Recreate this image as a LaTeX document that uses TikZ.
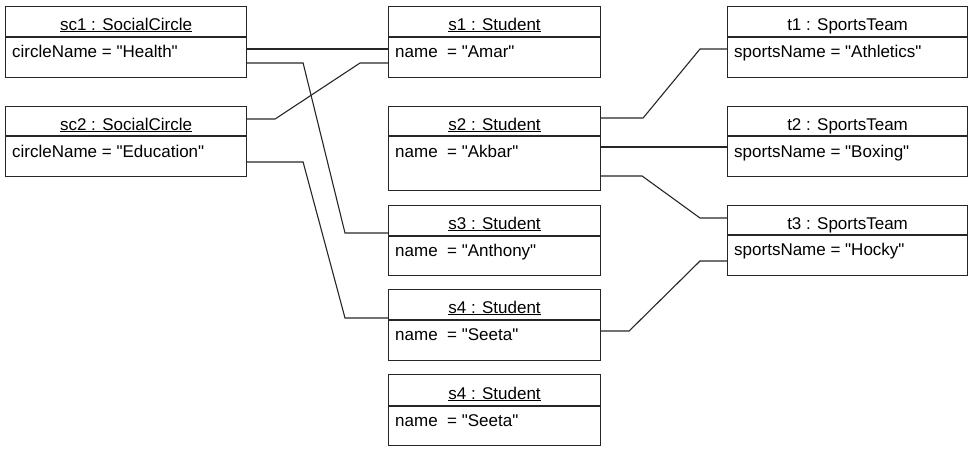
\documentclass[tikz,border=0pt]{standalone}
\usepackage{fontspec}
\setmainfont{Liberation Sans}

\tikzset{
	objbox/.style={draw=black!85, line width=1.1pt, anchor=north west, inner sep=0pt},
	objtitle/.style={inner sep=0pt, anchor=base},
	objattr/.style={inner sep=0pt, anchor=base west},
	link/.style={draw=black!85, line width=1.1pt},
}

\newcommand{\objsep}[2]{\draw[link] ([yshift=-#2]#1.north west) -- ([yshift=-#2]#1.north east);}
\newcommand{\qval}[1]{\textquotedbl#1\textquotedbl}

\begin{document}
\begin{tikzpicture}[x=1pt, y=-1pt, font=\fontsize{17}{20}\selectfont]
		\useasboundingbox (0,0) rectangle (976,451);
		% social circles
		\node[objbox, minimum width=241pt, minimum height=71pt] (sc1) at (5,6) {};
		\node[objbox, minimum width=241pt, minimum height=70pt] (sc2) at (5,106) {};
		% students
		\node[objbox, minimum width=212pt, minimum height=71pt] (s1) at (388,6) {};
		\node[objbox, minimum width=212pt, minimum height=84pt] (s2) at (388,106) {};
		\node[objbox, minimum width=212pt, minimum height=70pt] (s3) at (388,205) {};
		\node[objbox, minimum width=212pt, minimum height=71pt] (s4) at (388,289) {};
		\node[objbox, minimum width=212pt, minimum height=71pt] (s5) at (388,374) {};
		% sports teams
		\node[objbox, minimum width=240pt, minimum height=71pt] (t1) at (727,6) {};
		\node[objbox, minimum width=240pt, minimum height=70pt] (t2) at (727,106) {};
		\node[objbox, minimum width=240pt, minimum height=70pt] (t3) at (727,205) {};
		\objsep{sc1}{31pt} \objsep{sc2}{30pt}
		\objsep{s1}{31pt} \objsep{s2}{30pt} \objsep{s3}{31pt} \objsep{s4}{31pt} \objsep{s5}{32pt}
		\objsep{t1}{31pt} \objsep{t2}{30pt} \objsep{t3}{30pt}
		% titles
		\node[objtitle] (sc1name) at ([yshift=-24pt]sc1.north) {\underline{sc1 : SocialCircle}};
		\node[objtitle] (sc2name) at ([yshift=-24pt]sc2.north) {\underline{sc2 : SocialCircle}};
		\node[objtitle] (s1name) at ([yshift=-24pt]s1.north) {\underline{s1 : Student}};
		\node[objtitle] (s2name) at ([yshift=-24pt]s2.north) {\underline{s2 : Student}};
		\node[objtitle] (s3name) at ([yshift=-24pt]s3.north) {\underline{s3 : Student}};
		\node[objtitle] (s4name) at ([yshift=-24pt]s4.north) {\underline{s4 : Student}};
		\node[objtitle] (s5name) at ([yshift=-25pt]s5.north) {\underline{s4 : Student}};
		\node[objtitle] (t1name) at ([yshift=-24pt]t1.north) {t1 : SportsTeam};
		\node[objtitle] (t2name) at ([yshift=-24pt]t2.north) {t2 : SportsTeam};
		\node[objtitle] (t3name) at ([yshift=-24pt]t3.north) {t3 : SportsTeam};
		% attributes
		\node[objattr] (sc1attr) at ([xshift=7pt,yshift=-51pt]sc1.north west) {circleName = \qval{Health}};
		\node[objattr] (sc2attr) at ([xshift=7pt,yshift=-51pt]sc2.north west) {circleName = \qval{Education}};
		\node[objattr] (s1attr) at ([xshift=7pt,yshift=-51pt]s1.north west) {name\ \ = \qval{Amar}};
		\node[objattr] (s2attr) at ([xshift=7pt,yshift=-51pt]s2.north west) {name\ \ = \qval{Akbar}};
		\node[objattr] (s3attr) at ([xshift=7pt,yshift=-51pt]s3.north west) {name\ \ = \qval{Anthony}};
		\node[objattr] (s4attr) at ([xshift=7pt,yshift=-51pt]s4.north west) {name\ \ = \qval{Seeta}};
		\node[objattr] (s5attr) at ([xshift=7pt,yshift=-52pt]s5.north west) {name\ \ = \qval{Seeta}};
		\node[objattr] (t1attr) at ([xshift=7pt,yshift=-51pt]t1.north west) {sportsName = \qval{Athletics}};
		\node[objattr] (t2attr) at ([xshift=7pt,yshift=-51pt]t2.north west) {sportsName = \qval{Boxing}};
		\node[objattr] (t3attr) at ([xshift=7pt,yshift=-50pt]t3.north west) {sportsName = \qval{Hocky}};
		% links
		\draw[link] ([yshift=-43pt]sc1.north east) -- ([yshift=-43pt]s1.north west);
		\draw[link] ([yshift=-57pt]sc1.north east) -- ++(56,0) -- ([xshift=-43pt,yshift=-28pt]s3.north west) -- ([yshift=-28pt]s3.north west);
		\draw[link] ([yshift=-13pt]sc2.north east) -- ++(28,0) -- ([xshift=-28pt,yshift=-57pt]s1.north west) -- ([yshift=-57pt]s1.north west);
		\draw[link] ([yshift=-56pt]sc2.north east) -- ++(56,0) -- ([xshift=-43pt,yshift=-29pt]s4.north west) -- ([yshift=-29pt]s4.north west);
		\draw[link] ([yshift=-12pt]s2.north east) -- ++(42,0) -- ([xshift=-27pt,yshift=-43pt]t1.north west) -- ([yshift=-43pt]t1.north west);
		\draw[link] ([yshift=-41pt]s2.north east) -- ([yshift=-41pt]t2.north west);
		\draw[link] ([yshift=-70pt]s2.north east) -- ++(41,0) -- ([xshift=-27pt,yshift=-13pt]t3.north west) -- ([yshift=-13pt]t3.north west);
		\draw[link] ([yshift=-42pt]s4.north east) -- ++(28,0) -- ([xshift=-27pt,yshift=-56pt]t3.north west) -- ([yshift=-56pt]t3.north west);
	\end{tikzpicture}
\end{document}
